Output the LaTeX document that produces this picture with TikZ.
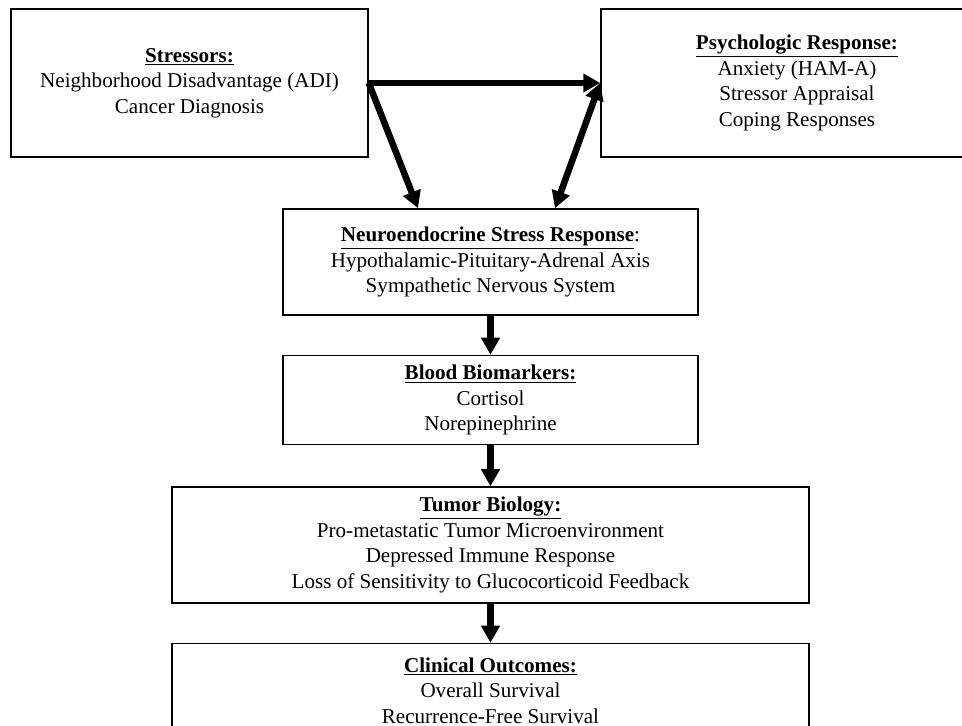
\documentclass[tikz,border=0pt]{standalone}
\usepackage{fontspec}
\setmainfont{Liberation Serif}
\usetikzlibrary{positioning,arrows.meta}

\tikzset{
  box/.style={draw, line width=0.85pt, align=center, inner sep=2pt,
    font=\fontsize{12}{14.6}\selectfont},
  fat/.style={line width=0.13cm, -{Triangle[length=0.34cm,width=0.36cm]}},
  fatboth/.style={line width=0.13cm,
    {Triangle[length=0.34cm,width=0.36cm]}-{Triangle[length=0.34cm,width=0.36cm]}},
}
\newcommand{\heading}[1]{\underline{\textbf{#1}}}

\begin{document}
\begin{tikzpicture}[node distance=2cm, auto]
  \path[use as bounding box] (-3.79,1.66) rectangle (15.45,-12.86);
  \clip (-3.79,1.66) rectangle (15.45,-12.86);
  \node(stress) [box, minimum width=7.14cm, minimum height=2.96cm]
    {\heading{Stressors:}\\ Neighborhood Disadvantage (ADI)\\ Cancer Diagnosis};
  \node(psych) [box, minimum width=7.84cm, minimum height=2.96cm, node distance=12.15cm, right of=stress]
    {\heading{Psychologic Response:}\\ Anxiety (HAM-A)\\ Stressor Appraisal\\ Coping Responses};
  \node(neuro) [box, minimum width=8.3cm, minimum height=2.12cm] at (6.02,-3.58)
    {\heading{Neuroendocrine Stress Response}:\\ Hypothalamic-Pituitary-Adrenal Axis\\ Sympathetic Nervous System};
  \node(blood) [box, minimum width=8.3cm, minimum height=1.78cm, below=0.78cm of neuro]
    {\heading{Blood Biomarkers:}\\ Cortisol\\ Norepinephrine};
  \node(tumor) [box, minimum width=12.74cm, minimum height=2.32cm, below=0.82cm of blood]
    {\heading{Tumor Biology:}\\ Pro-metastatic Tumor Microenvironment\\ Depressed Immune Response\\ Loss of Sensitivity to Glucocorticoid Feedback};
  \node(clinic) [box, minimum width=12.74cm, minimum height=1.88cm, below=0.78cm of tumor]
    {\heading{Clinical Outcomes:}\\ Overall Survival\\ Recurrence-Free Survival};
  % arrows
  \draw[fat](stress.east) -- (psych.west);
  \draw[fat](stress.east) -- ([xshift=-1.45cm]neuro.north);
  \draw[fatboth]([xshift=1.29cm]neuro.north) -- (psych.west);
  \draw[fat](neuro) -- (blood);
  \draw[fat](blood) -- (tumor);
  \draw[fat](tumor) -- (clinic);
\end{tikzpicture}
\end{document}
